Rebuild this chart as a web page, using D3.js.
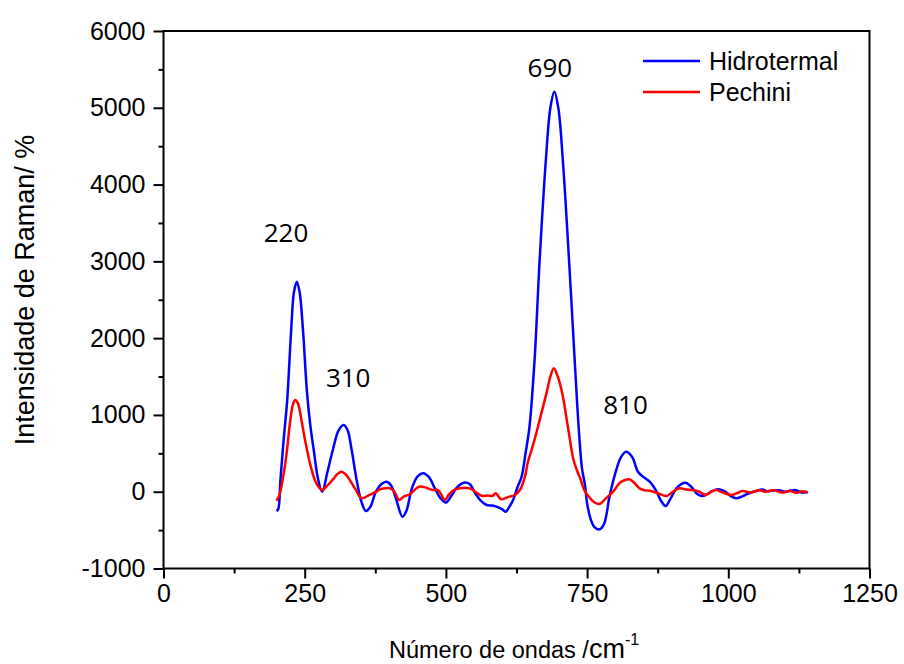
<!DOCTYPE html>
<html>
<head>
<meta charset="utf-8">
<title>Raman</title>
<style>
  body { margin: 0; background: #fff; }
  text { font-family: "Liberation Sans", Arial, sans-serif; fill: #000; }
  .peak { font-family: "Open Sans", sans-serif; }
</style>
</head>
<body>
<div id="chart"></div>
<script src="https://d3js.org/d3.v7.min.js"></script>
<script>
// Hidrotermal spectrum (wavenumber, intensity)
var hidroX = [200, 203, 207, 213, 219, 226, 231, 236, 241, 247, 254, 260, 266, 274, 281, 290, 300, 310, 319, 326, 333, 342, 350, 358, 366, 376, 386, 395, 403, 412, 423, 430, 440, 450, 460, 470, 480, 490, 500, 510, 520, 532, 542, 552, 562, 572, 582, 592, 600, 606, 612, 619, 627, 634, 641, 648, 657, 666, 677, 685, 692, 699, 707, 718, 728, 735, 741, 746, 750, 756, 763, 772, 780, 790, 799, 810, 819, 830, 840, 850, 861, 873, 881, 889, 897, 910, 924, 935, 945, 955, 965, 975, 985, 995, 1005, 1014, 1025, 1040, 1050, 1060, 1068, 1078, 1090, 1100, 1110, 1120, 1130, 1140];
var hidroY = [-250, -230, 150, 700, 1190, 2100, 2600, 2735, 2600, 2100, 1300, 860, 543, 152, 0, 250, 550, 800, 870, 800, 550, 150, -120, -250, -200, 0, 100, 130, 80, -100, -325, -250, 50, 200, 240, 190, 50, -80, -140, -50, 60, 117, 100, -20, -120, -173, -180, -200, -230, -260, -200, -108, 65, 195, 500, 846, 1716, 3018, 4320, 5000, 5209, 5000, 4320, 3018, 1716, 846, 300, 100, -150, -350, -460, -490, -420, -50, 217, 450, 521, 450, 260, 190, 130, 0, -120, -186, -100, 60, 117, 60, -30, -56, -20, 20, 30, 0, -60, -86, -60, -10, 10, 30, 5, 15, 20, 0, 15, 20, -10, 0];

// Pechini spectrum
var pechX = [200, 205, 212, 218, 224, 229, 233, 238, 245, 252, 260, 268, 275, 281, 290, 300, 308, 315, 322, 330, 340, 351, 365, 377, 383, 392, 401, 409, 417, 426, 436, 444, 452, 462, 477, 486, 492, 498, 504, 510, 517, 525, 535, 542, 552, 563, 573, 583, 588, 593, 598, 610, 622, 631, 640, 645, 654, 663, 670, 678, 685, 691, 698, 706, 716, 726, 733, 739, 745, 755, 763, 772, 784, 796, 808, 816, 825, 833, 843, 852, 861, 875, 891, 900, 914, 925, 937, 949, 960, 970, 979, 990, 1005, 1015, 1025, 1040, 1055, 1065, 1080, 1095, 1110, 1120, 1130, 1141];
var pechY = [-117, -50, 200, 500, 900, 1130, 1194, 1150, 900, 620, 350, 150, 60, 22, 80, 160, 230, 260, 230, 150, 30, -86, -40, 0, 30, 44, 44, 0, -108, -60, -34, 20, 65, 60, 22, 22, -40, -108, -50, 0, 30, 44, 50, 44, 0, -52, -50, -52, -20, -60, -99, -70, -43, 22, 200, 380, 600, 846, 1050, 1281, 1500, 1607, 1500, 1281, 846, 413, 260, 150, 20, -82, -140, -160, -80, 0, 117, 150, 161, 120, 44, 20, 13, -20, -56, -10, 44, 30, 22, 0, -43, 0, 22, -10, -43, -20, 10, -10, 20, 0, 20, -10, 10, -15, 5, -13];

var seriesNames = ["Hidrotermal", "Pechini"];
var seriesColors = ["#0000ff", "#ff0000"];

var xTicks = [0, 250, 500, 750, 1000, 1250];
var yTicks = [-1000, 0, 1000, 2000, 3000, 4000, 5000, 6000];

// peak annotations: label text and anchor (data units)
var peakLabels = ["220", "310", "690", "810"];
var peakAnchorX = [217, 327, 684, 818];
var peakAnchorY = [3256, 1367, 5404, 1012];

var W = 904, H = 664;
var margin = { top: 31, right: 34.5, bottom: 95.5, left: 163.5 };
var width = W - margin.left - margin.right,
    height = H - margin.top - margin.bottom;

var svg = d3.select("#chart").append("svg")
    .attr("width", W)
    .attr("height", H);
var g = svg.append("g")
    .attr("transform", "translate(" + margin.left + "," + margin.top + ")");

var x = d3.scaleLinear().domain([0, 1250]).range([0, width]);
var y = d3.scaleLinear().domain([-1000, 6000]).range([height, 0]);

// minor ticks
var xMinor = d3.range(125, 1250, 250);
var yMinor = d3.range(-500, 6000, 1000);

g.append("g")
    .attr("transform", "translate(0," + height + ")")
    .call(d3.axisBottom(x).tickValues(xTicks).tickSize(10).tickPadding(6).tickFormat(d => String(d)));
g.append("g")
    .attr("transform", "translate(0," + height + ")")
    .call(d3.axisBottom(x).tickValues(xMinor).tickSize(5).tickFormat(""));
g.append("g")
    .call(d3.axisLeft(y).tickValues(yTicks).tickSize(10).tickPadding(8).tickFormat(d => String(d)));
g.append("g")
    .call(d3.axisLeft(y).tickValues(yMinor).tickSize(5).tickFormat(""));

g.selectAll(".domain").remove();
g.selectAll(".tick line").attr("stroke", "#000").attr("stroke-width", 2);
g.selectAll(".tick text").style("font-size", "25px").style("font-family", "'Liberation Sans', Arial, sans-serif");

// frame
g.append("rect")
    .attr("x", 0).attr("y", 0)
    .attr("width", width).attr("height", height)
    .attr("fill", "none")
    .attr("stroke", "#000")
    .attr("stroke-width", 2);

// curves
var line = d3.line()
    .x(d => x(d[0]))
    .y(d => y(d[1]))
    .curve(d3.curveCatmullRom.alpha(0.5));

var series = [
    d3.zip(hidroX, hidroY),
    d3.zip(pechX, pechY)
];

g.selectAll(".spec")
    .data(series)
    .enter()
    .append("path")
    .attr("class", "spec")
    .attr("d", line)
    .attr("fill", "none")
    .attr("stroke", (d, i) => seriesColors[i])
    .attr("stroke-width", 2.5)
    .attr("stroke-linejoin", "round");

// peak labels
g.selectAll(".peak")
    .data(peakLabels)
    .enter()
    .append("text")
    .attr("class", "peak")
    .attr("x", (d, i) => x(peakAnchorX[i]))
    .attr("y", (d, i) => y(peakAnchorY[i]))
    .attr("text-anchor", "middle")
    .style("font-size", "26px")
    .text(d => d);

// legend
var legend = g.append("g").attr("transform", "translate(" + (643 - margin.left) + "," + (61 - margin.top) + ")");
seriesNames.forEach(function (name, i) {
    legend.append("line")
        .attr("x1", 0).attr("x2", 57)
        .attr("y1", i * 31).attr("y2", i * 31)
        .attr("stroke", seriesColors[i])
        .attr("stroke-width", 2.5);
    legend.append("text")
        .attr("x", 66)
        .attr("y", i * 31 + 8.5)
        .style("font-size", "25px")
        .text(name);
});

// axis titles
svg.append("text")
    .attr("transform", "translate(34," + 290 + ") rotate(-90)")
    .attr("text-anchor", "middle")
    .style("font-size", "27px")
    .text("Intensidade de Raman/ %");

var xt = svg.append("text")
    .attr("x", 389)
    .attr("y", 658);
xt.append("tspan").style("font-size", "23.5px").text("Número de ondas /");
xt.append("tspan").style("font-size", "27px").text("cm");
xt.append("tspan").style("font-size", "16px").attr("dy", -13).text("-1");
</script>
</body>
</html>
